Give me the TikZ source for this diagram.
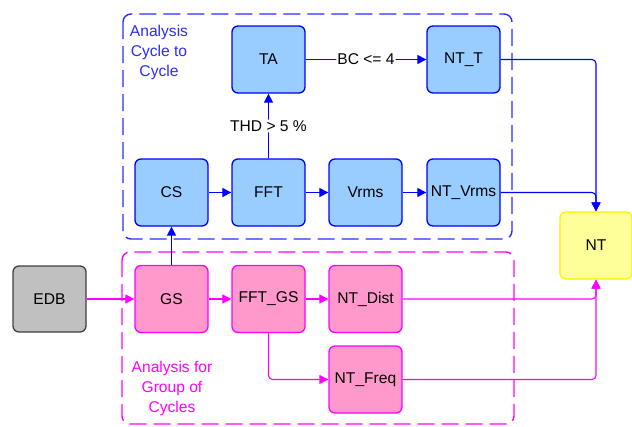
\documentclass[tikz,border=0pt]{standalone}
\usepackage{fontspec}
\setmainfont{Liberation Sans}
\usetikzlibrary{arrows.meta}
\definecolor{bfill}{HTML}{99CCFF}
\definecolor{bline}{HTML}{0000FF}
\definecolor{bdash}{HTML}{2B2BFF}
\definecolor{pfill}{HTML}{FF99CC}
\definecolor{pline}{HTML}{FF00FF}
\definecolor{yfill}{HTML}{FFFF99}
\definecolor{yline}{HTML}{F5F500}
\definecolor{gfill}{HTML}{C0C0C0}
\definecolor{gline}{HTML}{404040}
\begin{document}
\begin{tikzpicture}[x=1pt,y=-1pt,
  box/.style={draw, rounded corners=6pt, line width=1.3pt, minimum width=73pt, minimum height=67pt, inner sep=0pt, font=\fontsize{15.6}{18}\selectfont},
  bbox/.style={box, fill=bfill, draw=bline},
  pbox/.style={box, fill=pfill, draw=pline},
  ybox/.style={box, fill=yfill, draw=yline, minimum width=72pt},
  gbox/.style={box, fill=gfill, draw=gline, minimum height=66pt},
  tip/.style={-{Triangle[length=9pt,width=9pt]}},
  bconn/.style={draw=bline, line width=1.1pt, rounded corners=4pt},
  pconn/.style={draw=pline, line width=1.1pt, rounded corners=4pt},
  lbl/.style={fill=white, inner sep=1pt, font=\fontsize{15.6}{18}\selectfont},
  grp/.style={line width=1.4pt, dash pattern=on 17pt off 7pt, rounded corners=8pt},
  grplabel/.style={align=center, font=\fontsize{15.6}{20}\selectfont}
]
\useasboundingbox (0,0) rectangle (632,426);
% group frames
\draw[grp, draw=bdash] (123,14) rectangle (512,239);
\draw[grp, draw=pline] (122,252) rectangle (514,424);
\node[grplabel, text=bdash] (lblA) at (159,52) {Analysis\\Cycle to\\Cycle};
\node[grplabel, text=pline] (lblB) at (172,388) {Analysis for\\Group of\\Cycles};
% nodes
\node[bbox] (TA) at (268.5,59.5) {TA};
\node[bbox] (NTT) at (463.5,59.5) {NT\_T};
\node[bbox] (CS) at (171.5,192.5) {CS};
\node[bbox] (FFT) at (268.5,192.5) {FFT};
\node[bbox] (Vrms) at (365.5,192.5) {Vrms};
\node[bbox] (NTVrms) at (463.5,192.5) {NT\_Vrms};
\node[ybox] (NT) at (596,245.5) {NT};
\node[gbox] (EDB) at (49.5,299) {EDB};
\node[pbox] (GS) at (171.5,299) {GS};
\node[pbox] (FFTGS) at (268.5,299) {FFT\_GS};
\node[pbox] (NTDist) at (365.5,299) {NT\_Dist};
\node[pbox] (NTFreq) at (365.5,379.5) {NT\_Freq};
% blue connectors
\draw[bconn, tip] (CS) -- (FFT);
\draw[bconn, tip] (FFT) -- (Vrms);
\draw[bconn, tip] (Vrms) -- (NTVrms);
\draw[bconn, tip] (FFT) -- node[lbl] {THD > 5 \%} (TA);
\draw[bconn, tip] (TA) -- node[lbl] {BC <= 4} (NTT);
\draw[bconn, tip] (NTT.east) -| (NT.north);
\draw[bconn, tip] (NTVrms.east) -| (NT.north);
\draw[bconn, tip] (GS) -- (CS);
% pink connectors
\draw[pconn, tip] (EDB) -- (GS);
\draw[pconn, tip] (GS) -- (FFTGS);
\draw[pconn, tip] (FFTGS) -- (NTDist);
\draw[pconn, tip] (FFTGS.south) |- (NTFreq.west);
\draw[pconn, tip] (NTDist.east) -| (NT.south);
\draw[pconn, tip] (NTFreq.east) -| (NT.south);
\end{tikzpicture}
\end{document}
